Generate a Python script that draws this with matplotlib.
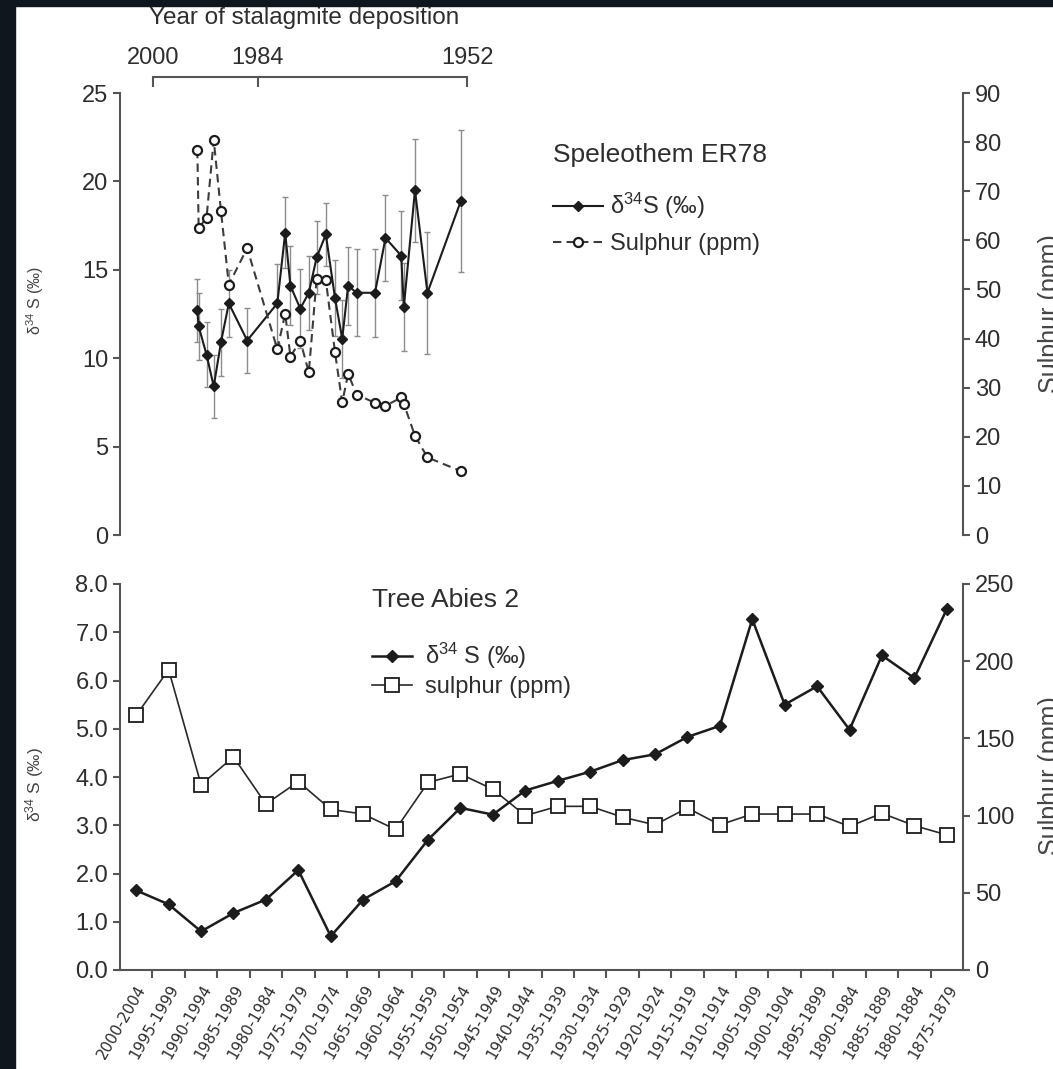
import numpy as np
import matplotlib.pyplot as plt
from matplotlib.patches import Rectangle
from matplotlib.ticker import FormatStrFormatter

plt.rcParams['font.family'] = ['Liberation Sans', 'DejaVu Sans']
plt.rcParams['mathtext.fontset'] = 'custom'
plt.rcParams['mathtext.rm'] = 'Liberation Sans'
plt.rcParams['mathtext.it'] = 'Liberation Sans:italic'

# Speleothem ER78: deposition year, d34S with error, sulphur content
er78_years = [1993.2, 1993.0, 1991.8, 1990.7, 1989.6, 1988.4, 1985.6, 1981.0, 1979.8,
              1979.0, 1977.5, 1976.2, 1975.0, 1973.6, 1972.2, 1971.1, 1970.2, 1968.9,
              1966.1, 1964.5, 1962.1, 1961.7, 1960.0, 1958.1, 1953.0]
er78_d34s = [12.7, 11.8, 10.2, 8.4, 10.9, 13.1, 11.0, 13.1, 17.1, 14.1, 12.8, 13.7, 15.7,
             17.0, 13.4, 11.1, 14.1, 13.7, 13.7, 16.8, 15.8, 12.9, 19.5, 13.7, 18.9]
er78_d34s_err = [1.8, 1.9, 1.85, 1.8, 1.9, 1.9, 1.85, 2.25, 2.0, 2.25, 2.25, 2.1, 2.05,
                 1.8, 2.15, 2.2, 2.2, 2.45, 2.5, 2.45, 2.5, 2.5, 2.9, 3.45, 4.0]
er78_sulphur = [78.4, 62.5, 64.6, 80.4, 66.0, 51.0, 58.4, 37.8, 45.1, 36.3, 39.6, 33.1, 52.2,
                51.9, 37.2, 27.0, 32.8, 28.6, 26.9, 26.3, 28.0, 26.7, 20.2, 15.8, 13.0]
bracket_years = [2000, 1984, 1952]

# Tree Abies 2: 5-year bins
abies_bins = ['2000-2004', '1995-1999', '1990-1994', '1985-1989', '1980-1984', '1975-1979',
              '1970-1974', '1965-1969', '1960-1964', '1955-1959', '1950-1954', '1945-1949',
              '1940-1944', '1935-1939', '1930-1934', '1925-1929', '1920-1924', '1915-1919',
              '1910-1914', '1905-1909', '1900-1904', '1895-1899', '1890-1984', '1885-1889',
              '1880-1884', '1875-1879']
abies_d34s = [1.65, 1.36, 0.80, 1.18, 1.46, 2.07, 0.70, 1.46, 1.84, 2.70, 3.36, 3.22, 3.72,
              3.92, 4.11, 4.35, 4.47, 4.83, 5.06, 7.27, 5.50, 5.88, 4.98, 6.52, 6.05, 7.48]
abies_sulphur = [165, 194.5, 120, 138, 107.5, 122, 104, 101, 91, 121.5, 127, 117, 100,
                 106, 106, 99, 94, 105, 94, 101, 101, 101, 93, 101.5, 93.5, 87.5]

W, H = 1053, 1069
fig = plt.figure(figsize=(W / 100, H / 100), dpi=100)

def box(x0, y0, x1, y1):
    return [x0 / W, 1 - y1 / H, (x1 - x0) / W, (y1 - y0) / H]

# dark slide backdrop along the left and top edges
fig.patches.append(Rectangle((0, 0), 15 / W, 1, transform=fig.transFigure,
                             color='#10161d', zorder=-5))
fig.patches.append(Rectangle((0, 1 - 6 / H), 1, 6 / H, transform=fig.transFigure,
                             color='#10161d', zorder=-5))

ink = '#1c1c1c'
axis_col = '#555555'
txt = '#2e2e2e'

def style_axis(ax):
    for s in ax.spines.values():
        s.set_color(axis_col)
        s.set_linewidth(1.5)
    ax.tick_params(colors=axis_col, labelcolor=txt, width=1.5, length=5, labelsize=17)

# ---- top panel: speleothem ----
ax1 = fig.add_axes(box(120, 93, 963, 535))
ax1.set_xlim(2005, 1876.4)
ax1.set_ylim(0, 25)
ax1.errorbar(er78_years, er78_d34s, yerr=er78_d34s_err, fmt='none', ecolor='#8c8c8c',
             elinewidth=1, capsize=2.5, capthick=1, zorder=2)
h_d, = ax1.plot(er78_years, er78_d34s, '-', color=ink, lw=1.5, marker='D', ms=5,
                mfc=ink, mec=ink, zorder=4)

ax1r = ax1.twinx()
ax1r.set_ylim(0, 90)
h_s, = ax1r.plot(er78_years, er78_sulphur, color='#3c3c3c', lw=1.5, ls=(0, (4, 2.5)),
                 marker='o', ms=6.5, mfc='white', mec=ink, mew=1.6)

style_axis(ax1)
style_axis(ax1r)
ax1.spines[['bottom', 'right']].set_visible(False)
ax1r.spines[['top', 'bottom', 'left']].set_visible(False)
ax1.set_yticks(np.arange(0, 26, 5))
ax1r.set_yticks(np.arange(0, 91, 10))

# bracket showing the deposition years
ax1.spines['top'].set_position(('outward', 11.5))
ax1.spines['top'].set_bounds(2000, 1952)
ax1.xaxis.set_ticks_position('top')
ax1.set_xticks(bracket_years)
ax1.tick_params(axis='x', direction='in', length=7, pad=6)
ax1.text(0.218, 1.17, 'Year of stalagmite deposition', transform=ax1.transAxes,
         ha='center', va='center', fontsize=17.5, color=txt)

ax1r.text((553 - 120) / 843, (535 - 155) / 442, 'Speleothem ER78', transform=ax1.transAxes,
          ha='left', va='center', fontsize=19, color=txt)
ax1r.legend([h_d, h_s], ['δ$^{34}$S (‰)', 'Sulphur (ppm)'], loc='upper left',
            bbox_to_anchor=(553 / W, 1 - 191 / H), bbox_transform=fig.transFigure,
            frameon=False, fontsize=17, handlelength=2.1, handletextpad=0.3,
            labelspacing=0.52, borderpad=0, borderaxespad=0, labelcolor=txt)

# ---- bottom panel: tree rings ----
ax2 = fig.add_axes(box(120, 584, 963, 970))
x = np.arange(len(abies_bins))
ax2.set_xlim(-0.5, len(abies_bins) - 0.5)
ax2.set_ylim(0, 8)
ax2r = ax2.twinx()
ax2r.set_ylim(0, 250)

h_sq, = ax2r.plot(x, abies_sulphur, '-', color='#2a2a2a', lw=1.2, marker='s', ms=10.5,
                  mfc='white', mec=ink, mew=1.3, zorder=3)
h_dd, = ax2r.plot(x, np.array(abies_d34s) * 250 / 8, '-', color=ink, lw=1.8, marker='D',
                  ms=6.5, mfc=ink, mec=ink, zorder=4)

style_axis(ax2)
style_axis(ax2r)
ax2.spines[['top', 'right']].set_visible(False)
ax2r.spines[['top', 'bottom', 'left']].set_visible(False)
ax2.set_yticks(np.arange(0, 9))
ax2.yaxis.set_major_formatter(FormatStrFormatter('%.1f'))
ax2r.set_yticks(np.arange(0, 251, 50))

ax2.set_xticks(x, labels=abies_bins, rotation=60, ha='right', rotation_mode='anchor',
               fontsize=11, family='DejaVu Sans')
ax2.set_xticks(np.arange(0.5, len(abies_bins) - 1), minor=True)
ax2.tick_params(axis='x', which='major', length=0, pad=9, labelsize=11)
ax2.tick_params(axis='x', which='minor', length=6, width=1.5, colors=axis_col)

ax2r.text((372 - 120) / 843, (970 - 600) / 386, 'Tree Abies 2', transform=ax2.transAxes,
          ha='left', va='center', fontsize=19, color=txt)
ax2r.legend([h_dd, h_sq], ['δ$^{34}$ S (‰)', 'sulphur (ppm)'], loc='upper left',
            bbox_to_anchor=(372 / W, 1 - 641 / H), bbox_transform=fig.transFigure,
            frameon=False, fontsize=17, handlelength=1.7, handletextpad=0.55,
            labelspacing=0.2, borderpad=0, borderaxespad=0, labelcolor=txt)

# axis titles
fig.text(35 / W, 1 - 300 / H, 'δ$^{34}$ S (‰)', rotation=90, ha='center', va='center',
         fontsize=11.5, color='#444444')
fig.text(35 / W, 1 - 785 / H, 'δ$^{34}$ S (‰)', rotation=90, ha='center', va='center',
         fontsize=12.5, color='#444444')
fig.text(1038 / W, 1 - 314 / H, 'Sulphur (ppm)', rotation=90, ha='left', va='center',
         fontsize=18, color='#444444')
fig.text(1038 / W, 1 - 776 / H, 'Sulphur (ppm)', rotation=90, ha='left', va='center',
         fontsize=18, color='#444444')

fig.savefig('out.png', dpi=100)
